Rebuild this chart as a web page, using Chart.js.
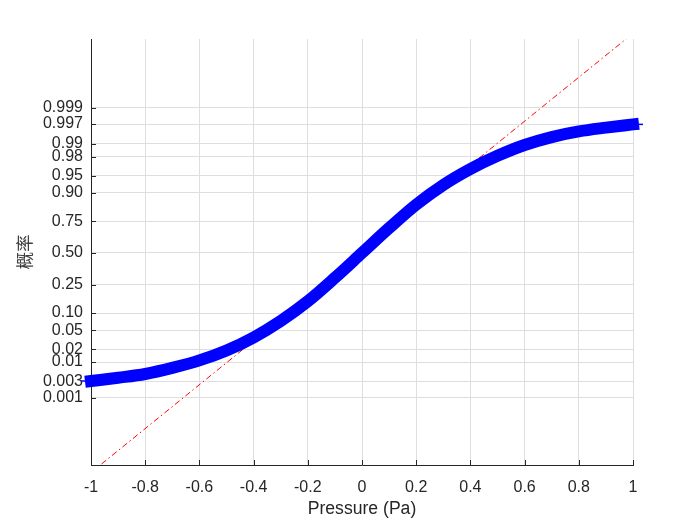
<!DOCTYPE html>
<html>
<head>
<meta charset="utf-8">
<script src="https://cdn.jsdelivr.net/npm/chart.js@4/dist/chart.umd.min.js"></script>
<style>
html,body{margin:0;padding:0;background:#fff;}
#wrap{width:700px;height:525px;}
</style>
</head>
<body>
<div id="wrap"><canvas id="c" width="700" height="525"></canvas></div>
<script>
// ---- data ----
const pressure = [-1, -0.9, -0.8, -0.7, -0.6, -0.5, -0.4, -0.3, -0.2, -0.1, 0, 0.1, 0.2, 0.3, 0.4, 0.5, 0.6, 0.7, 0.8, 0.9, 1];
const probability = [0.00317, 0.00391, 0.00494, 0.00714, 0.0110, 0.0188, 0.0359, 0.0735, 0.1515, 0.298, 0.50, 0.702, 0.8485, 0.9265, 0.9633, 0.9808, 0.9893, 0.99324, 0.9952, 0.99621, 0.99693];
const refLineX = [-1, 1];
const refLineZ = [-4.68, 4.68];
const xTicks = [-1, -0.8, -0.6, -0.4, -0.2, 0, 0.2, 0.4, 0.6, 0.8, 1];
const xTickLabels = ['-1', '-0.8', '-0.6', '-0.4', '-0.2', '0', '0.2', '0.4', '0.6', '0.8', '1'];
const probTicks = [0.001, 0.003, 0.01, 0.02, 0.05, 0.10, 0.25, 0.50, 0.75, 0.90, 0.95, 0.98, 0.99, 0.997, 0.999];
const probTickLabels = ['0.001', '0.003', '0.01', '0.02', '0.05', '0.10', '0.25', '0.50', '0.75', '0.90', '0.95', '0.98', '0.99', '0.997', '0.999'];
const xTitle = 'Pressure (Pa)';
const yTitle = '概率';

// inverse normal CDF (probability scale transform)
function norminv(p) {
  const a = [-3.969683028665376e+01, 2.209460984245205e+02, -2.759285104469687e+02, 1.383577518672690e+02, -3.066479806614716e+01, 2.506628277459239e+00];
  const b = [-5.447609879822406e+01, 1.615858368580409e+02, -1.556989798598866e+02, 6.680131188771972e+01, -1.328068155288572e+01];
  const c = [-7.784894002430293e-03, -3.223964580411365e-01, -2.400758277161838e+00, -2.549732467966588e+00, 4.374664141464968e+00, 2.938163982698783e+00];
  const d = [7.784695709041462e-03, 3.224671290700398e-01, 2.445134137142996e+00, 3.754408661907416e+00];
  const pl = 0.02425, ph = 1 - pl;
  let q, r;
  if (p < pl) {
    q = Math.sqrt(-2 * Math.log(p));
    return (((((c[0]*q+c[1])*q+c[2])*q+c[3])*q+c[4])*q+c[5]) / ((((d[0]*q+d[1])*q+d[2])*q+d[3])*q+1);
  } else if (p <= ph) {
    q = p - 0.5; r = q * q;
    return (((((a[0]*r+a[1])*r+a[2])*r+a[3])*r+a[4])*r+a[5])*q / (((((b[0]*r+b[1])*r+b[2])*r+b[3])*r+b[4])*r+1);
  } else {
    q = Math.sqrt(-2 * Math.log(1 - p));
    return -(((((c[0]*q+c[1])*q+c[2])*q+c[3])*q+c[4])*q+c[5]) / ((((d[0]*q+d[1])*q+d[2])*q+d[3])*q+1);
  }
}

const AXC = '#262626';
const GRIDC = '#dedede';
const FONT = '"Liberation Sans", Arial, Helvetica, sans-serif';
const last = pressure.length - 1;

const innerTicks = {
  id: 'innerTicks',
  beforeDatasetsDraw(chart) {
    const ctx = chart.ctx, xs = chart.scales.x, ys = chart.scales.y, ca = chart.chartArea;
    ctx.save();
    ctx.strokeStyle = AXC; ctx.lineWidth = 1;
    ctx.beginPath();
    xs.ticks.forEach(t => {
      const px = Math.round(xs.getPixelForValue(t.value)) + 0.5;
      ctx.moveTo(px, ca.bottom); ctx.lineTo(px, ca.bottom - 5);
    });
    ys.ticks.forEach(t => {
      const py = Math.round(ys.getPixelForValue(t.value)) + 0.5;
      ctx.moveTo(ca.left, py); ctx.lineTo(ca.left + 5, py);
    });
    ctx.stroke();
    ctx.restore();
  }
};

new Chart(document.getElementById('c'), {
  type: 'scatter',
  data: {
    datasets: [
      {
        data: pressure.map((x, i) => ({x: x, y: norminv(probability[i])})),
        showLine: true,
        borderColor: '#0000ff',
        backgroundColor: '#0000ff',
        borderWidth: 12,
        borderCapStyle: 'square',
        cubicInterpolationMode: 'monotone',
        pointStyle: 'line',
        pointRadius: ctx => (ctx.dataIndex === 0 || ctx.dataIndex === last) ? 10 : 0,
        pointBorderWidth: 1.5,
        pointBorderColor: '#0000ff',
        clip: false
      },
      {
        data: refLineX.map((x, i) => ({x: x, y: refLineZ[i]})),
        showLine: true,
        borderColor: '#ff0000',
        borderWidth: 1,
        borderDash: [6, 3, 1.5, 3],
        pointRadius: 0
      }
    ]
  },
  options: {
    responsive: false,
    animation: false,
    events: [],
    layout: {padding: {top: 39, right: 67, bottom: 0, left: 14}},
    plugins: {legend: {display: false}, tooltip: {enabled: false}},
    scales: {
      x: {
        type: 'linear',
        min: -1, max: 1,
        afterBuildTicks: s => { s.ticks = xTicks.map(v => ({value: v})); },
        afterFit: s => { s.height = 60; },
        grid: {color: GRIDC, drawTicks: false},
        border: {display: true, color: AXC, width: 1},
        ticks: {
          autoSkip: false, maxRotation: 0, padding: 13,
          color: AXC, font: {family: FONT, size: 16},
          callback: (v, i) => xTickLabels[i]
        },
        title: {display: true, text: xTitle, color: AXC, font: {family: FONT, size: 17.6}, padding: {top: 0, bottom: 5}}
      },
      y: {
        type: 'linear',
        min: -4.52, max: 4.56,
        afterBuildTicks: s => { s.ticks = probTicks.map(p => ({value: norminv(p)})); },
        afterFit: s => { s.width = 77; },
        grid: {color: GRIDC, drawTicks: false},
        border: {display: true, color: AXC, width: 1},
        ticks: {
          autoSkip: false, padding: 8,
          color: AXC, font: {family: FONT, size: 16},
          callback: (v, i) => probTickLabels[i]
        },
        title: {display: true, text: yTitle, color: '#404040', font: {family: '"Noto Sans CJK SC", sans-serif', size: 17.6}, padding: {top: 0, bottom: 0}}
      }
    }
  },
  plugins: [innerTicks]
});
</script>
</body>
</html>
